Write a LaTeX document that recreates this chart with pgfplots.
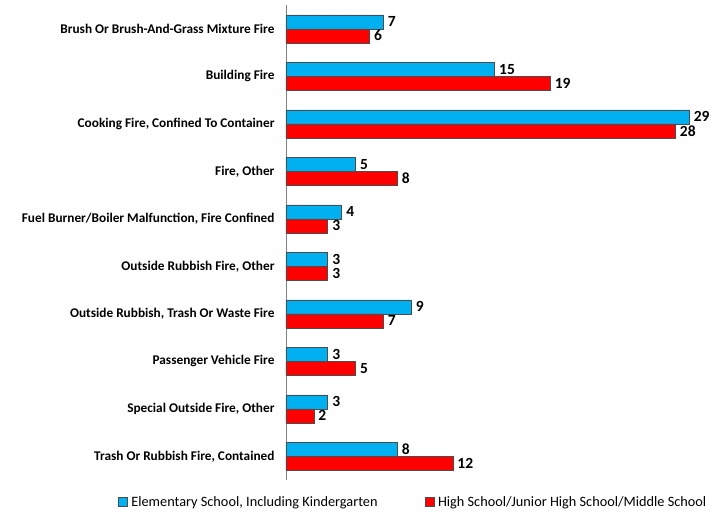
\documentclass[border=0pt]{standalone}
\usepackage{pgfplots}
\pgfplotsset{compat=1.18}
\usepackage{fontspec}
\setmainfont{Carlito}
\definecolor{elem}{HTML}{00B0F0}
\definecolor{high}{HTML}{FF0000}
\begin{document}
\begin{tikzpicture}
\begin{axis}[
    scale only axis,
    width=417pt, height=475pt,
    xbar,
    bar width=14pt,
    xmin=0, xmax=30,
    ymin=-0.5, ymax=9.5,
    y dir=reverse,
    axis x line=none,
    axis y line*=left,
    axis line style={gray, -},
    ytick={0,...,9},
    yticklabels={
        Brush Or Brush-And-Grass Mixture Fire,
        Building Fire,
        {Cooking Fire, Confined To Container},
        {Fire, Other},
        {Fuel Burner/Boiler Malfunction, Fire Confined},
        {Outside Rubbish Fire, Other},
        {Outside Rubbish, Trash Or Waste Fire},
        Passenger Vehicle Fire,
        {Special Outside Fire, Other},
        {Trash Or Rubbish Fire, Contained}},
    ytick style={draw=none},
    yticklabel style={font=\fontsize{13.3}{16}\selectfont\bfseries},
    /pgf/number format/assume math mode=true,
    major tick length=0pt,
    yticklabel shift=8pt,
    nodes near coords,
    every node near coord/.append style={font=\fontsize{15.5}{18}\selectfont\bfseries,
        anchor=west, inner sep=0.5pt, xshift=4pt},
    clip=false,
    legend style={at={(0.305,-0.025)}, anchor=north, legend columns=2, draw=none,
        font=\fontsize{14.3}{16}\selectfont,
        /tikz/every odd column/.append style={column sep=2pt},
        /tikz/every even column/.append style={column sep=45pt}},
    legend image code/.code={\draw[#1, draw=black!70] (0pt,-4.5pt) rectangle (9pt,4.5pt);},
]
\addplot[fill=elem, draw=black!70, bar shift=7pt] coordinates {
    (7,0) (15,1) (29,2) (5,3) (4,4) (3,5) (9,6) (3,7) (3,8) (8,9)};
\addplot[fill=high, draw=black!70, bar shift=-7pt] coordinates {
    (6,0) (19,1) (28,2) (8,3) (3,4) (3,5) (7,6) (5,7) (2,8) (12,9)};
\legend{{Elementary School, Including Kindergarten}, {High School/Junior High School/Middle School}}
\end{axis}
\path ([xshift=-286pt,yshift=-36pt]current axis.south west) rectangle ([xshift=9pt,yshift=5pt]current axis.north east);
\end{tikzpicture}
\end{document}
